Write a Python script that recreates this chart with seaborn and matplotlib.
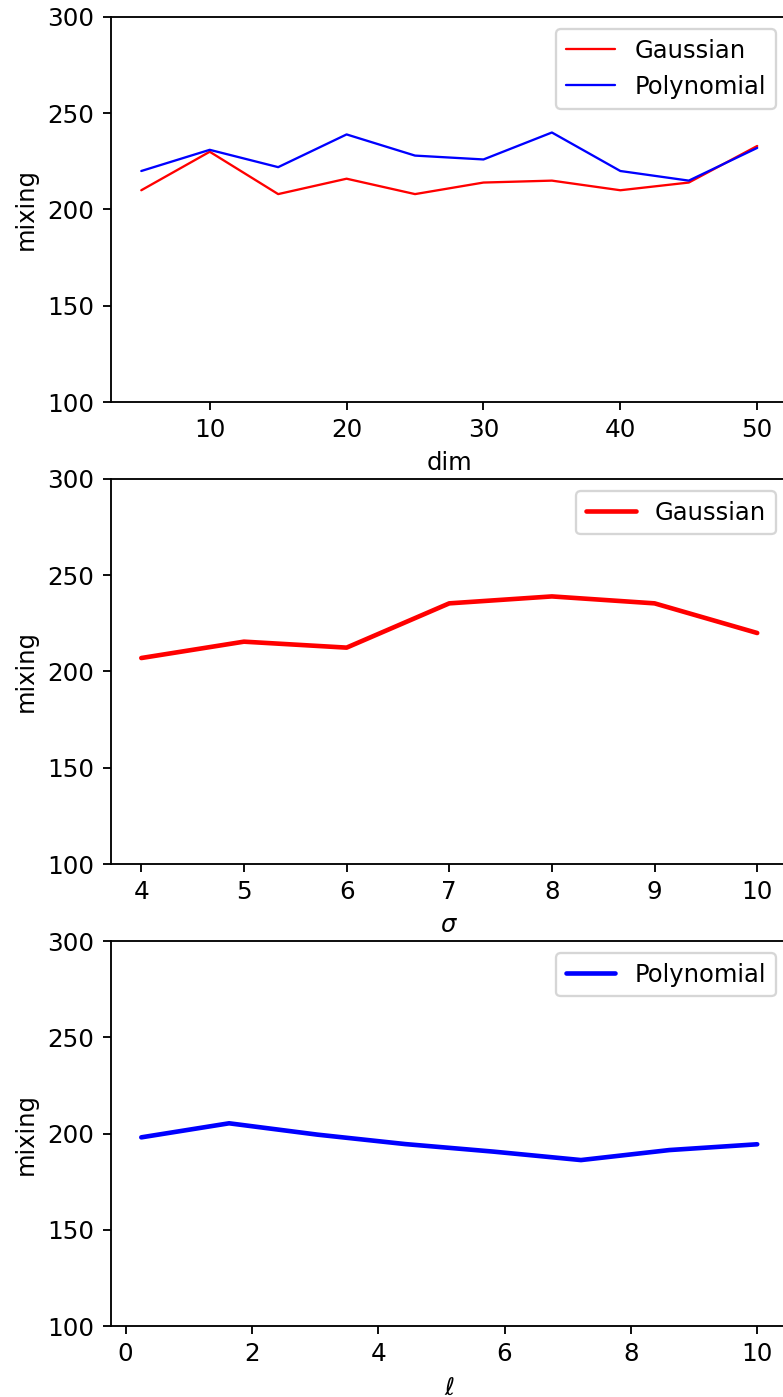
import numpy as np
import pandas as pd
import matplotlib
matplotlib.use("Agg")
import matplotlib.pyplot as plt
import seaborn as sns

# ---- data ----
dims = [5, 10, 15, 20, 25, 30, 35, 40, 45, 50]
gauss_dim = [210, 230, 208, 216, 208, 214, 215, 210, 214, 233]
poly_dim = [220, 231, 222, 239, 228, 226, 240, 220, 215, 232]

sigmas = [4, 5, 6, 7, 8, 9, 10]
gauss_sigma = [207, 215.5, 212.4, 235.4, 239, 235.4, 220]

ells = [0.25, 1.64, 3.04, 4.43, 5.82, 7.21, 8.61, 10.0]
poly_ell = [198, 205.3, 199.4, 194.5, 190.6, 186.2, 191.4, 194.4]

yticks = [100, 150, 200, 250, 300]

sns.set_style("ticks")
plt.rcParams.update({
    "font.family": ["DejaVu Sans"],
    "font.size": 10.5,
    "axes.edgecolor": "black",
    "axes.labelcolor": "black",
    "xtick.color": "black",
    "ytick.color": "black",
    "text.color": "black",
    "axes.linewidth": 0.8,
    "xtick.major.width": 0.8,
    "ytick.major.width": 0.8,
    "xtick.major.size": 3.5,
    "ytick.major.size": 3.5,
    "xtick.labelsize": 10.7,
    "ytick.labelsize": 10.7,
    "axes.labelsize": 10.5,
    "legend.fontsize": 10.5,
    "legend.handlelength": 2.05,
    "mathtext.fontset": "dejavusans",
})

W, H = 783, 1397
dpi = 166
fig = plt.figure(figsize=(W / dpi, H / dpi), dpi=dpi)

left = 110.5 / W
width = 677.5 / W
tops = [17, 479, 941]
ah = 385
axes = [fig.add_axes([left, (H - t - ah) / H, width, ah / H]) for t in tops]

# panel 1
df1 = pd.DataFrame({
    "dim": dims * 2,
    "mixing": gauss_dim + poly_dim,
    "kernel": ["Gaussian"] * len(dims) + ["Polynomial"] * len(dims),
})
ax = axes[0]
sns.lineplot(data=df1, x="dim", y="mixing", hue="kernel",
             palette={"Gaussian": "red", "Polynomial": "blue"},
             linewidth=1, ax=ax)
h, l = ax.get_legend_handles_labels()
ax.legend(h, l, loc="upper right")
ax.set_xlabel("dim")
ax.set_ylabel("mixing")

# panel 2
df2 = pd.DataFrame({"sigma": sigmas, "mixing": gauss_sigma})
ax = axes[1]
sns.lineplot(data=df2, x="sigma", y="mixing", color="red", linewidth=2,
             label="Gaussian", ax=ax)
ax.legend(loc="upper right")
ax.set_xlabel(r"$\sigma$")
ax.set_ylabel("mixing")

# panel 3
df3 = pd.DataFrame({"ell": ells, "mixing": poly_ell})
ax = axes[2]
sns.lineplot(data=df3, x="ell", y="mixing", color="blue", linewidth=2,
             label="Polynomial", ax=ax)
ax.legend(loc="upper right")
ax.set_xlabel(r"$\ell$")
ax.set_ylabel("mixing")

for ax in axes:
    ax.set_ylim(100, 300)
    ax.set_yticks(yticks)
    for s in ax.spines.values():
        s.set_visible(True)
        s.set_color("black")

fig.savefig("out.png", dpi=dpi)
